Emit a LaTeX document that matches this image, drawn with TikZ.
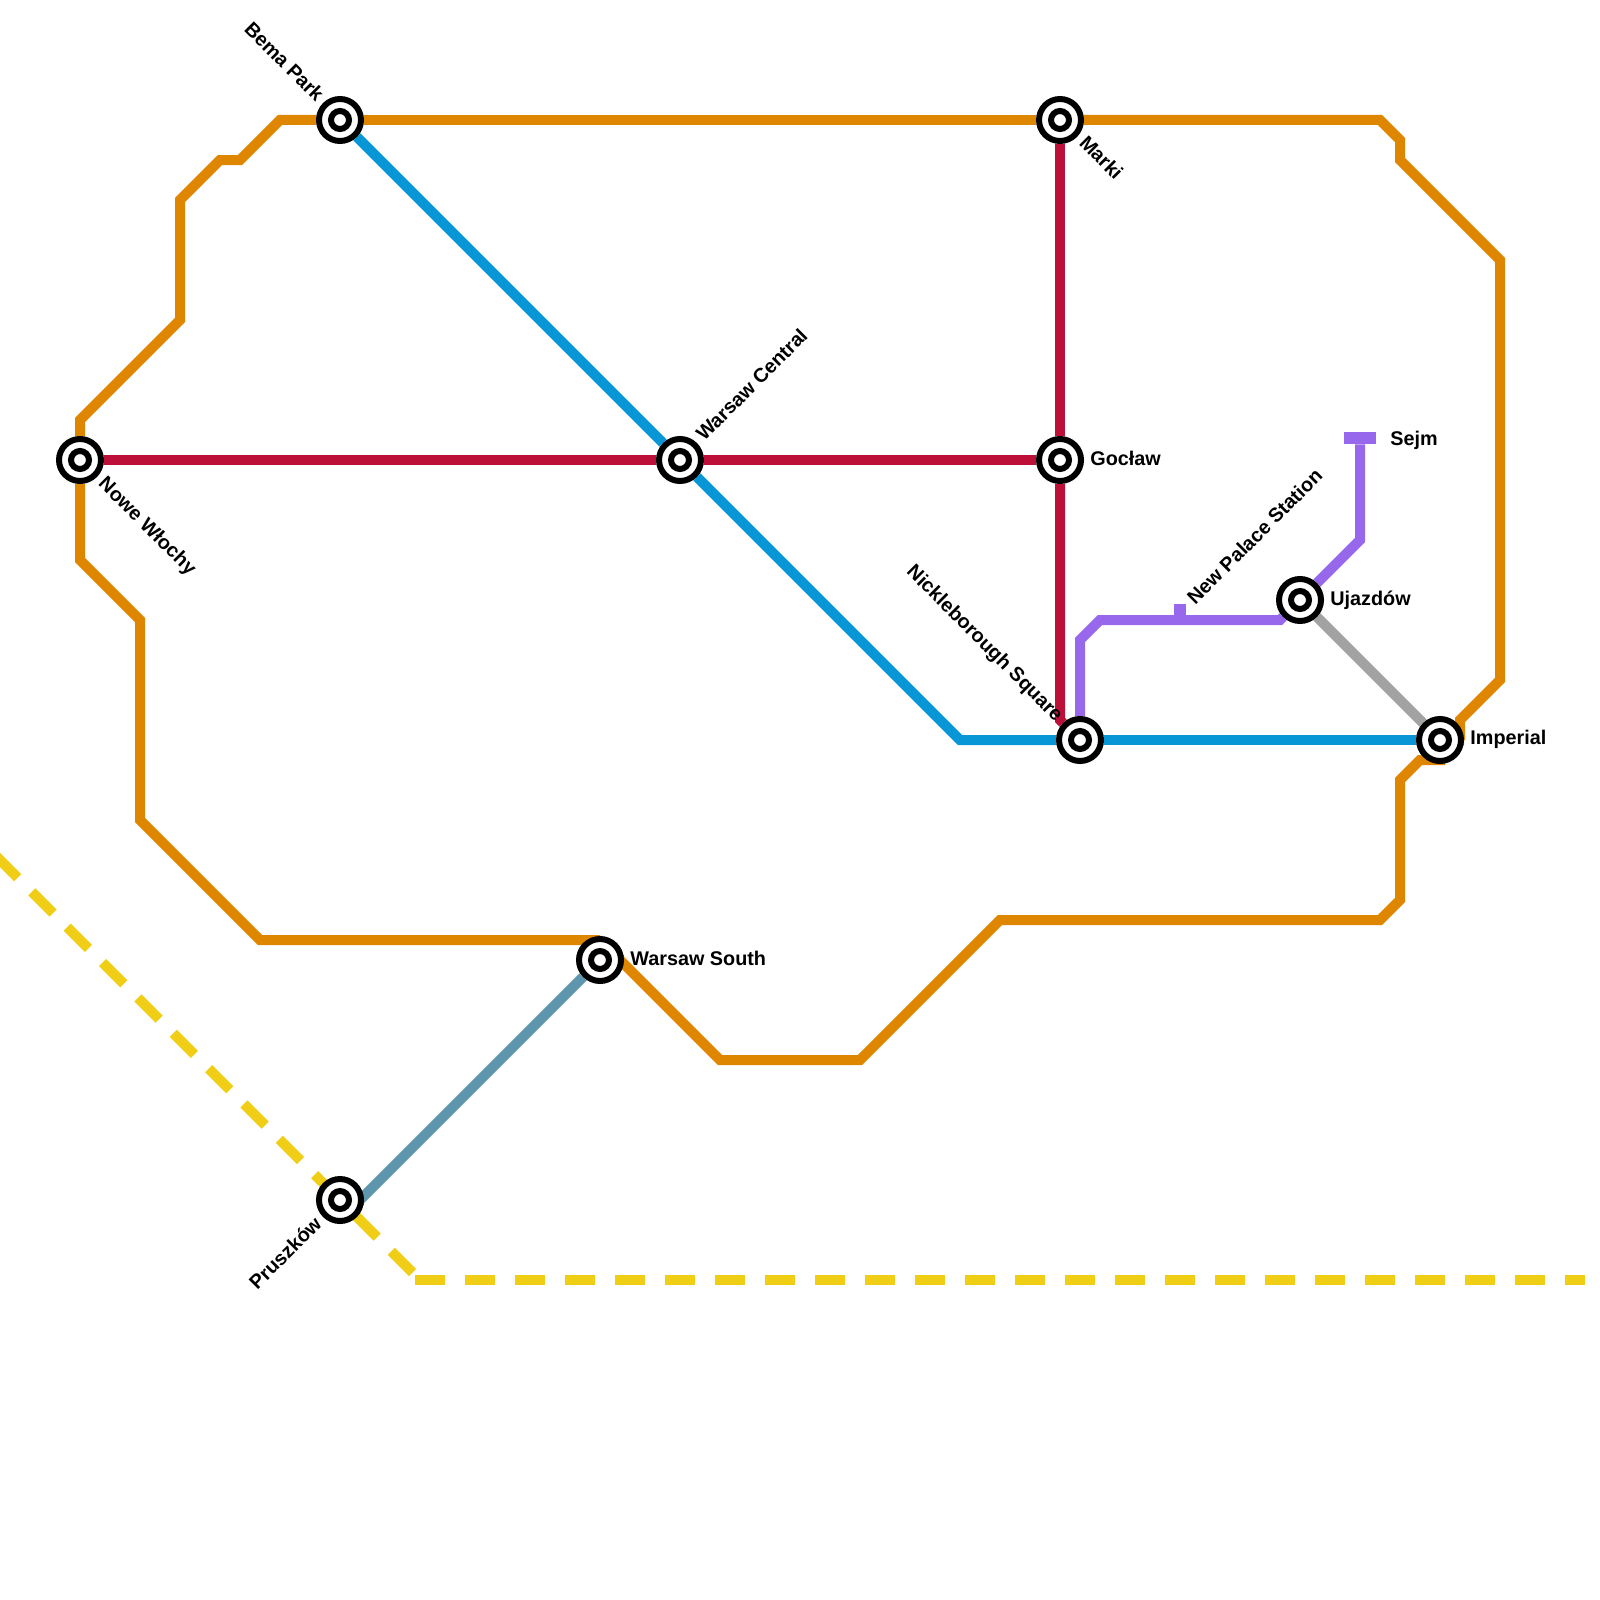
\documentclass[tikz,border=0pt]{standalone}
\usepackage{fontspec}
\setmainfont{Liberation Sans}
\usetikzlibrary{backgrounds}
\definecolor{lineorange}{HTML}{DF8600}
\definecolor{linered}{HTML}{BD1038}
\definecolor{lineblue}{HTML}{0896D7}
\definecolor{linepurple}{HTML}{9768EB}
\definecolor{linegrey}{HTML}{A2A2A2}
\definecolor{linesteel}{HTML}{5E96AE}
\definecolor{lineyellow}{HTML}{F0CE15}
\begin{document}
\begin{tikzpicture}[
    x=0.5pt, y=-0.5pt,
    station/.style={circle, draw=black, fill=white, line width=3pt, minimum size=21pt, inner sep=0pt,
                    path picture={\draw[line width=3pt] (path picture bounding box.center) circle (4.5pt);}},
    stub/.style={fill=linepurple, inner sep=0pt},
    tag/.style={font=\bfseries\fontsize{9.9}{12}\selectfont, inner sep=0pt},
    route/.style={line width=5pt, line join=miter},
    orange/.style={route, draw=lineorange},
    crimson/.style={route, draw=linered},
    blueline/.style={route, draw=lineblue},
    purple/.style={route, draw=linepurple},
    grey/.style={route, draw=linegrey},
    steel/.style={route, draw=linesteel},
    yellowline/.style={route, draw=lineyellow, dash pattern=on 15pt off 10pt}]
  \useasboundingbox (0,0) rectangle (1600,1600);
  % stations
  \node[station] (nowe) at (80,460) {};
  \node[station] (bema) at (340,120) {};
  \node[station] (central) at (680,460) {};
  \node[station] (marki) at (1060,120) {};
  \node[station] (goclaw) at (1060,460) {};
  \node[station] (nickle) at (1080,740) {};
  \node[station] (imperial) at (1440,740) {};
  \node[station] (ujazdow) at (1300,600) {};
  \node[station] (south) at (600,960) {};
  \node[station] (pruszkow) at (340,1200) {};
  \node[stub, minimum width=16pt, minimum height=6pt] (sejm) at (1360,438) {};
  \node[stub, minimum width=6pt, minimum height=8pt] (palace) at (1180,612) {};
  \coordinate (west) at (-3.5,856.5);
  \coordinate (knee) at (412.5,1272.5);
  \coordinate (flat) at (415,1280);
  \coordinate (east) at (1585,1280);
  \coordinate (southtop) at (600,940);
  % labels
  \node[tag, anchor=east, rotate=-45] (bemat) at (321,98) {Bema Park};
  \node[tag, anchor=west, rotate=-45] (nowet) at (101,481) {Nowe Włochy};
  \node[tag, anchor=west, rotate=45] (centralt) at (699,437) {Warsaw Central};
  \node[tag, anchor=west, rotate=-45] (markit) at (1083,139) {Marki};
  \node[tag, anchor=west] (goclawt) at (1090,458) {Gocław};
  \node[tag, anchor=east, rotate=-45] (nicklet) at (1059,719) {Nickleborough Square};
  \node[tag, anchor=west, rotate=45] (palacet) at (1190,601) {New Palace Station};
  \node[tag, anchor=west] (ujazdowt) at (1330,600) {Ujazdów};
  \node[tag, anchor=west] (sejmt) at (1390,440) {Sejm};
  \node[tag, anchor=west] (imperialt) at (1470,739) {Imperial};
  \node[tag, anchor=west] (southt) at (630,958) {Warsaw South};
  \node[tag, anchor=east, rotate=45] (pruszkowt) at (318,1220) {Pruszków};
  % lines
  \begin{scope}[on background layer]
    \draw[yellowline] (west) -- (pruszkow.center);
    \draw[yellowline, dash phase=13.7pt] (pruszkow.center) -- (knee);
    \draw[yellowline] (flat) -- (east);
    \draw[orange] (nowe) -- (80,420) -- (180,320) -- (180,200) -- (220,160) -- (240,160) -- (280,120) -- (bema);
    \draw[orange] (bema) -- (marki);
    \draw[orange] (marki) -- (1380,120) -- (1400,140) -- (1400,160) -- (1500,260) -- (1500,680) -- (1460,720) |- (imperial);
    \draw[orange] (imperial.center) -- (1440,760) -- (1420,760) -- (1400,780) -- (1400,900) -- (1380,920) -- (1000,920)
      -- (860,1060) -- (720,1060) -- (620,960) -- (south);
    \draw[orange] (southtop) -- (260,940) -- (140,820) -- (140,620) -- (80,560) -- (nowe);
    \draw[crimson] (nowe) -- (central);
    \draw[crimson] (central) -- (goclaw);
    \draw[crimson] (goclaw) -- (marki);
    \draw[crimson] (goclaw) -- (1060,720) -- (nickle);
    \draw[blueline] (bema) -- (central);
    \draw[blueline] (central) -- (960,740) -- (nickle);
    \draw[blueline] (nickle) -- (imperial);
    \draw[purple] (nickle) -- (1080,640) -- (1100,620) -- (1280,620) -- (ujazdow);
    \draw[purple] (ujazdow) -- (1360,540) -- (sejm);
    \draw[grey] (ujazdow) -- (imperial);
    \draw[steel] (south) -- (360,1200) -- (pruszkow);
  \end{scope}
\end{tikzpicture}
\end{document}
